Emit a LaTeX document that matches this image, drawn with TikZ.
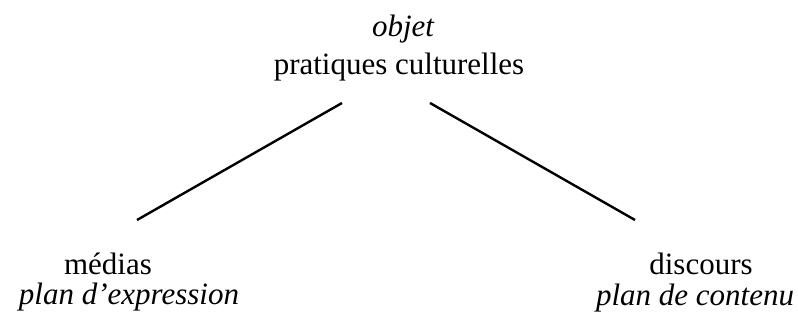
\documentclass[tikz,border=0pt]{standalone}
\usepackage{fontspec}
\setmainfont{Liberation Serif}
\usetikzlibrary{positioning,calc}
\tikzset{
  term/.style={anchor=base,inner sep=0pt,font=\fontsize{31}{35}\selectfont},
  plan/.style={term,font=\fontsize{31}{35}\selectfont\itshape},
  branch/.style={line width=2.4pt,black},
}

\begin{document}
\begin{tikzpicture}[x=1pt,y=1pt]
  \useasboundingbox (0,0) rectangle (798,320);
  % top: the object
  \node[plan] (obj) at (403,283) {objet};
  \node[term] (prat) at ([xshift=-4pt,yshift=-38pt]obj.base) {pratiques culturelles};
  % bottom left and right
  \node[term] (med) at (108,45) {médias};
  \node[plan] (medPlan) at ([xshift=21pt,yshift=-30pt]med.base) {plan d’expression};
  \node[term] (disc) at (701,45) {discours};
  \node[plan] (discPlan) at ([xshift=-6pt,yshift=-31pt]disc.base) {plan de contenu};
  % ends of the two branches
  \coordinate (pratL) at (342,217);
  \coordinate (pratR) at (430,217);
  \coordinate (medT) at (137,100);
  \coordinate (discT) at (635,100);
  \draw[branch] (pratL) -- (medT);
  \draw[branch] (pratR) -- (discT);
\end{tikzpicture}
\end{document}
